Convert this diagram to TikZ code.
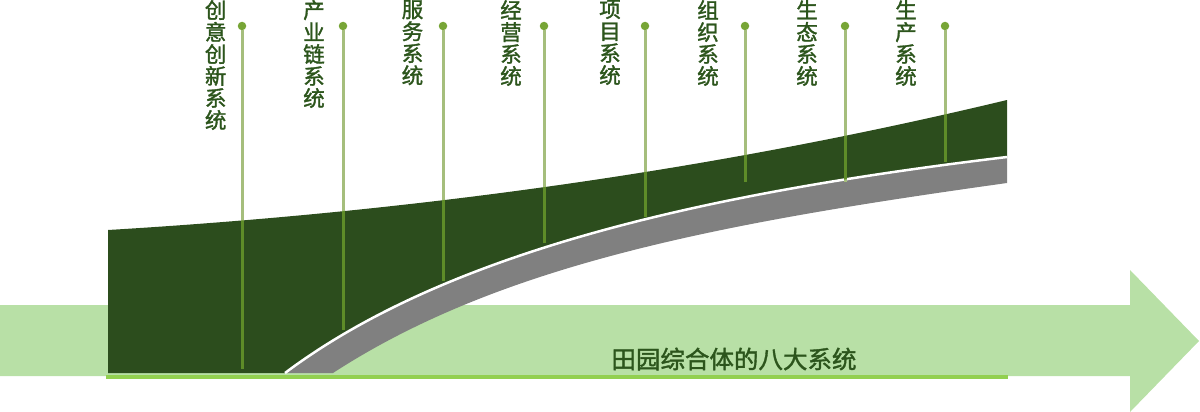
\documentclass[tikz,border=0pt]{standalone}
\usepackage{fontspec}
\newfontfamily\cjk[FakeBold=1.5]{Noto Sans CJK SC}
\definecolor{arrowgreen}{HTML}{B8E0A6}
\definecolor{linegreen}{HTML}{92D050}
\definecolor{darkgreen}{HTML}{2C4D1D}
\definecolor{bandgray}{HTML}{808080}
\definecolor{stemlight}{HTML}{A5BE7C}
\definecolor{stemdark}{HTML}{5E8C28}
\definecolor{dotgreen}{HTML}{77A536}
\definecolor{textgreen}{HTML}{2C551C}
\tikzset{
  lab/.style={anchor=north, inner sep=0pt, align=center, text=textgreen,
    font=\cjk\fontsize{21.5}{22}\selectfont},
  titletext/.style={inner sep=0pt, text=textgreen, font=\cjk\fontsize{24.5}{26}\selectfont},
  dotnode/.style={circle, fill=dotgreen, minimum size=8.5pt, inner sep=0pt},
  stemline/.style={line width=3pt, stemlight},
  stemin/.style={line width=3pt, stemdark},
}
\begin{document}
\begin{tikzpicture}[x=1pt,y=-1pt]
\useasboundingbox (0,0) rectangle (1200,412);
% big arrow
\fill[arrowgreen] (0,305) -- (1130,305) -- (1130,270) -- (1199,341) -- (1130,412) -- (1130,376) -- (0,376) -- cycle;
% base line
\fill[linegreen] (106,375) rectangle (1008,379);
% gray band
\fill[bandgray] (285,373) .. controls (455,245.5) and (727,190.6) .. (1007,157) -- (1007,183) .. controls (727,222.2) and (503,262.5) .. (333,373) -- cycle;
% dark green area
\def\darkpath{(108,230) .. controls (408,212) and (707,172) .. (1007,100) -- (1007,157) .. controls (727,190.6) and (455,245.5) .. (285,373) -- (108,373) -- cycle}
\fill[darkgreen] \darkpath;
\draw[white, line width=2.5pt] (285,373) .. controls (455,245.5) and (727,190.6) .. (1007,157);
% title
\node[titletext] (title) at (734,359) {田园综合体的八大系统};
% stems and labels
\foreach \i/\sx/\ey/\lx/\txt in {
  1/242/369/215.7/{创\\意\\创\\新\\系\\统},
  2/343/330/314/{产\\业\\链\\系\\统},
  3/443/281/412.5/{服\\务\\系\\统},
  4/544/243/511/{经\\营\\系\\统},
  5/645/217/610/{项\\目\\系\\统},
  6/745/182/708/{组\\织\\系\\统},
  7/845/182/807/{生\\态\\系\\统},
  8/945/162/906/{生\\产\\系\\统}} {
  \node[dotnode] (d\i) at (\sx,26) {};
  \coordinate (e\i) at (\sx,\ey);
  \draw[stemline] (d\i) -- (e\i);
  \begin{scope}
    \clip \darkpath;
    \draw[stemin] (d\i) -- (e\i);
  \end{scope}
  \node[lab] (l\i) at (\lx,0) {\txt};
}
\end{tikzpicture}
\end{document}
